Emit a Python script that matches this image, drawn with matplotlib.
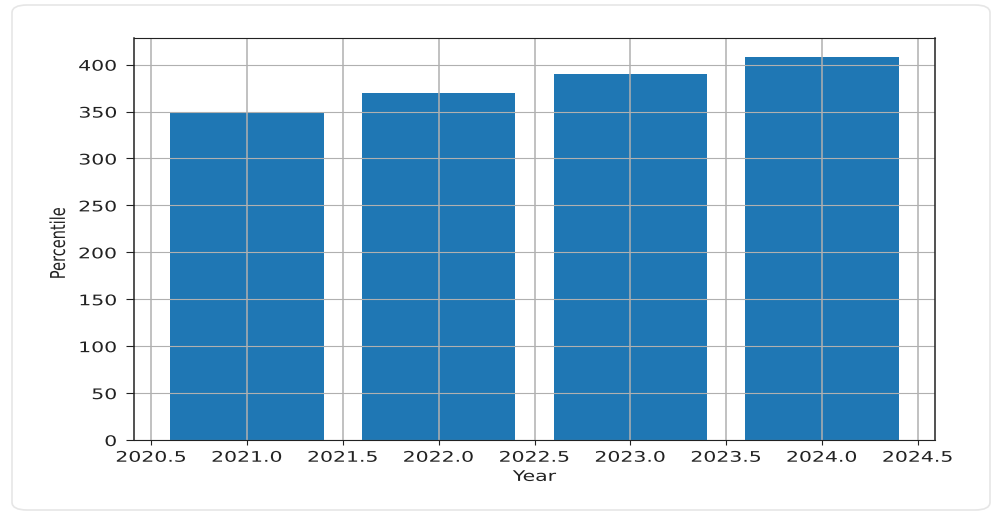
import matplotlib
matplotlib.use("Agg")
import matplotlib.pyplot as plt
from matplotlib.patches import FancyBboxPatch
from matplotlib.patheffects import AbstractPathEffect
from matplotlib.transforms import Affine2D

years = [2021, 2022, 2023, 2024]
percentile = [349, 370, 390, 408]


class HStretch(AbstractPathEffect):
    """Stretch drawn text horizontally (the reference is a horizontally stretched render)."""
    def __init__(self, sx=1.4, anchor="center"):
        super().__init__()
        self.sx = sx
        self.anchor = anchor

    def draw_path(self, renderer, gc, tpath, affine, rgbFace=None):
        ext = tpath.get_extents(affine)
        if self.anchor == "right":
            cx = ext.x1
        elif self.anchor == "left":
            cx = ext.x0
        else:
            cx = (ext.x0 + ext.x1) / 2
        t = affine + Affine2D().translate(-cx, 0).scale(self.sx, 1).translate(cx, 0)
        renderer.draw_path(gc, tpath, t, rgbFace)


SX = 1.4
FS = 10.5
TXT = "#222222"

fig = plt.figure(figsize=(10.03, 5.17), dpi=100)
card = FancyBboxPatch((12/1003, 7/517), 978/1003, 505/517,
                      boxstyle="round,pad=0,rounding_size=0.015",
                      transform=fig.transFigure, facecolor="white",
                      edgecolor="#e6e6e6", linewidth=1.2, zorder=-10)
fig.patches.append(card)

ax = fig.add_axes([134/1003, 1 - 440/517, (935-134)/1003, (440-38)/517])
ax.set_zorder(1)
ax.bar(years, percentile, color="#1f77b4")
ax.grid(True, axis="x", linewidth=1.1)
ax.grid(True, axis="y", linewidth=0.8)

ax.tick_params(axis="x", labelsize=FS, colors=TXT, length=3.5, pad=3.5)
ax.tick_params(axis="y", labelsize=FS, colors=TXT, length=5.8, pad=6.5)
for lab in ax.get_xticklabels():
    lab.set_path_effects([HStretch(SX, "center")])
for lab in ax.get_yticklabels():
    lab.set_path_effects([HStretch(SX, "right")])

xl = ax.set_xlabel("Year", fontsize=FS, color=TXT, labelpad=3)
xl.set_path_effects([HStretch(SX, "center")])
yl = ax.set_ylabel("Percentile", fontsize=FS, color=TXT)
yl.set_path_effects([HStretch(SX, "right")])
ax.yaxis.set_label_coords((68 - 134) / 801, 0.49)

for name, s in ax.spines.items():
    s.set_color("#222222")
    s.set_linewidth(1.1 if name in ("left", "right") else 0.8)

fig.savefig("out.png", dpi=100)
